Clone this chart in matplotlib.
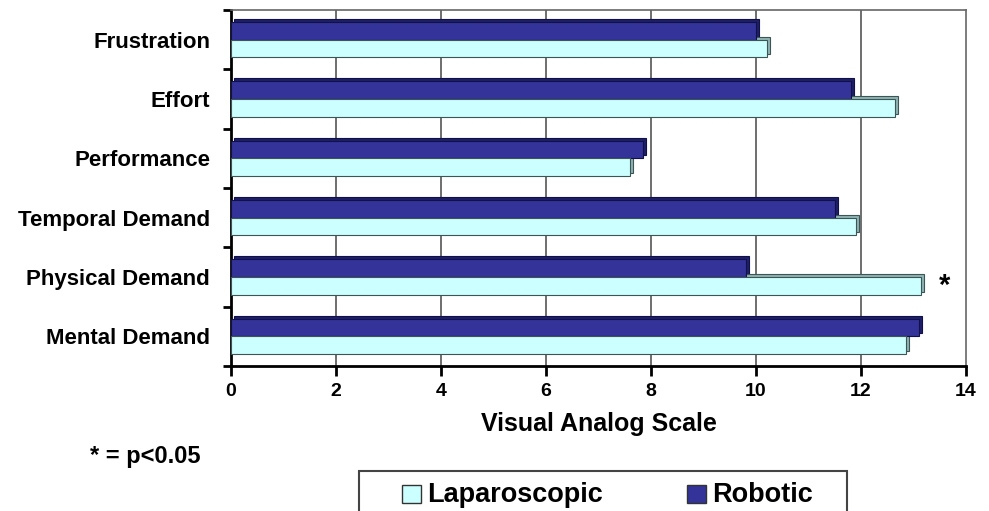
import matplotlib
matplotlib.use("Agg")
import matplotlib.pyplot as plt
import matplotlib.transforms as mtransforms
from matplotlib.patches import Rectangle
import numpy as np

categories = ["Mental Demand", "Physical Demand", "Temporal Demand",
              "Performance", "Effort", "Frustration"]
laparoscopic = [12.85, 13.15, 11.9, 7.6, 12.65, 10.2]
robotic = [13.1, 9.8, 11.5, 7.85, 11.8, 10.0]
xticks = [0, 2, 4, 6, 8, 10, 12, 14]
series_names = ["Laparoscopic", "Robotic"]

plt.rcParams['font.family'] = ['Liberation Sans', 'DejaVu Sans']

W, H = 989, 511
fig = plt.figure(figsize=(W/100, H/100), dpi=100)
ax = fig.add_axes([231/W, 1-366/H, (966-231)/W, (366-10)/H])

y = np.arange(len(categories))
h = 0.3
lap_col, lap_edge, lap_side = "#CCFFFF", "#3d5555", "#8fb3b3"
rob_col, rob_edge, rob_side = "#333399", "#10104a", "#1f1f66"

depth = mtransforms.ScaledTranslation(3/100, 3/100, fig.dpi_scale_trans)
tr_back = ax.transData + depth

for vals, off, col, edge, side in [(robotic, h/2, rob_col, rob_edge, rob_side),
                                   (laparoscopic, -h/2, lap_col, lap_edge, lap_side)]:
    ax.barh(y + off, vals, height=h, color=side, edgecolor=edge, linewidth=0.8,
            transform=tr_back, zorder=2)
    ax.barh(y + off, vals, height=h, color=col, edgecolor=edge, linewidth=0.8,
            zorder=3)

ax.set_xlim(0, 14)
ax.set_ylim(-0.5, 5.5)
ax.set_xticks(xticks)
ax.set_xticklabels([str(t) for t in xticks], fontsize=14, fontweight='bold')
ax.set_yticks(y)
ax.set_yticklabels(categories, fontsize=16, fontweight='bold')
ax.tick_params(axis='y', length=0, pad=15)
ax.set_yticks(np.arange(-0.5, 5.6, 1), minor=True)
ax.tick_params(axis='y', which='minor', length=6, width=2, color='black')
ax.tick_params(axis='x', length=7, width=2, direction='out', pad=5)

for t in xticks[1:-1]:
    ax.axvline(t, color='#555555', linewidth=1.2, zorder=1)
for s in ['top', 'right']:
    ax.spines[s].set_color('#666666')
    ax.spines[s].set_linewidth(1.2)
ax.spines['left'].set_linewidth(2)
ax.spines['bottom'].set_linewidth(2)

ax.text(max(laparoscopic[1], robotic[1]) + 0.45, y[1] - 0.15, "*", fontsize=21,
        fontweight='bold', ha='center', va='center')

ax.set_xlabel("Visual Analog Scale", fontsize=18, fontweight='bold', labelpad=9)

fig.text(90/W, 1-456/H, "* = p<0.05", fontsize=17, fontweight='bold',
         va='center', ha='left')

# legend box (bottom cut off by the figure edge, as in the reference)
fig.patches.append(Rectangle((359/W, 1-525/H), (847-359)/W, (525-471)/H,
                             transform=fig.transFigure, facecolor='white',
                             edgecolor='#444444', linewidth=1.5))
for name, col, hx, tx in [(series_names[0], lap_col, 402, 427),
                          (series_names[1], rob_col, 687, 712)]:
    fig.patches.append(Rectangle((hx/W, 1-503/H), 19/W, 18/H,
                                 transform=fig.transFigure, facecolor=col,
                                 edgecolor='#333333', linewidth=1))
    fig.text(tx/W, 1-502/H, name, fontsize=19.5, fontweight='bold',
             ha='left', va='baseline')

fig.savefig("out.png", dpi=100)
